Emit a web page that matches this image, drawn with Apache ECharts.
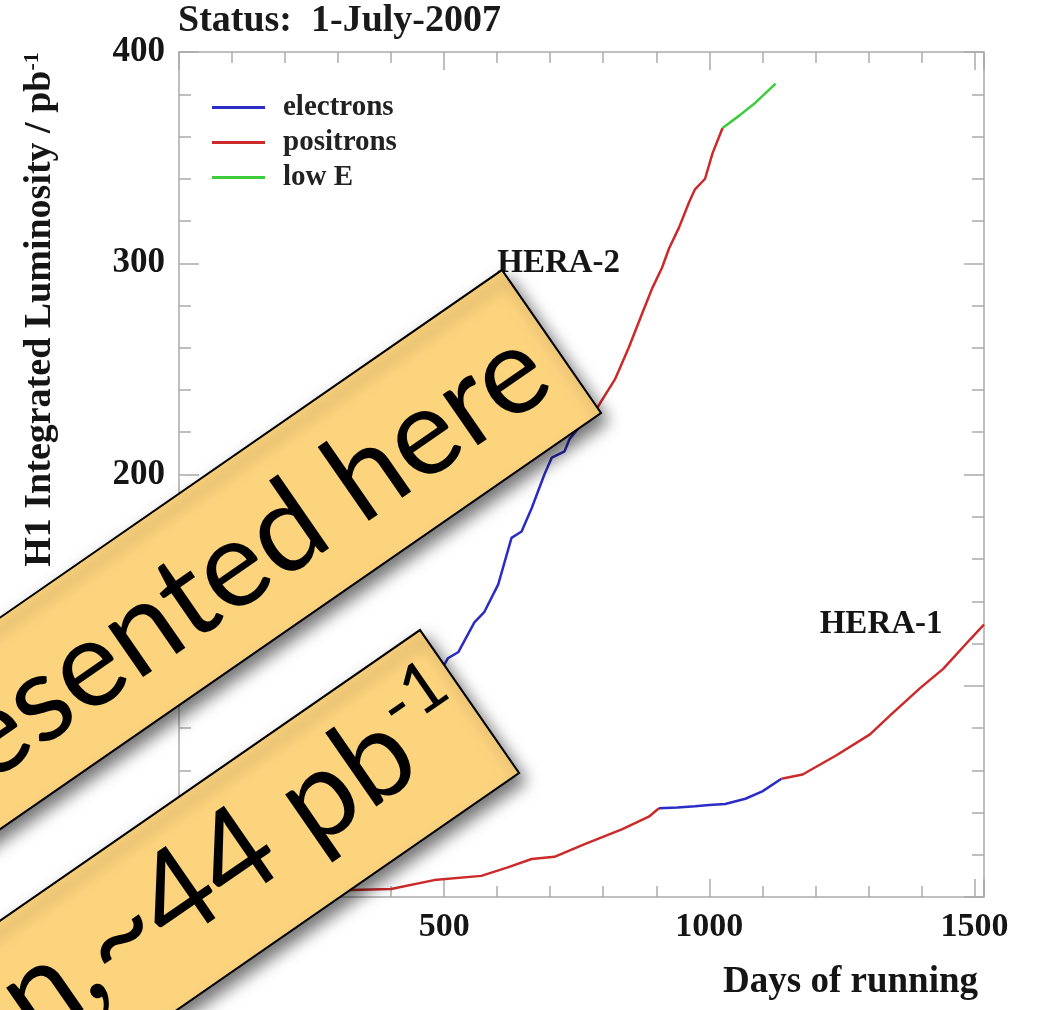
<!DOCTYPE html>
<html><head><meta charset="utf-8">
<script src="https://cdn.jsdelivr.net/npm/echarts@6/dist/echarts.min.js"></script>
<style>html,body{margin:0;padding:0;background:#fff}#c{width:1039px;height:1010px}</style>
</head><body><div id="c"></div>
<script>
// ---------- data (days of running, integrated luminosity pb^-1) ----------
const legendNames = ['electrons', 'positrons', 'low E'];
const xLabelTicks = [0, 500, 1000, 1500];
const yLabelTicks = [0, 100, 200, 300, 400];

// HERA-2
const hera2Positrons1 = [[0,0],[60,3],[120,9],[180,18],[240,30],[290,42]];
const hera2Electrons = [[290,42],[340,55],[390,70],[440,88],[480,101],[507,113],[527,116],[557,130],[576,135],[602,148],[627,170],[646,173],[665,184],[689,200],[703,208],[727,211],[737,217],[760,224],[785,230]];
const hera2Positrons2 = [[785,230],[797,235],[822,245],[848,260],[873,276],[892,288],[911,298],[924,307],[943,317],[962,329],[973,335],[992,340],[1006,352],[1025,364]];
const hera2LowE = [[1025,364],[1057,370],[1087,376],[1125,385]];

// HERA-1
const hera1Positrons1 = [[0,0],[100,0.8],[200,1.8],[280,2.8],[324,3.3],[400,3.8],[481,8],[570,10],[620,14],[665,18],[708,19],[765,25],[835,32],[886,38],[905,42]];
const hera1Electrons = [[905,42],[940,42.4],[973,43],[1000,43.6],[1030,44],[1068,46.5],[1100,50],[1136,56]];
const hera1Positrons2 = [[1136,56],[1176,58],[1239,67],[1303,77],[1341,86],[1398,99],[1441,108],[1492,122],[1518,129]];

const annotations = [
  { name: 'HERA-2', coord: [716, 300] },
  { name: 'HERA-1', coord: [1324, 129] }
];
const bannerTexts = ['esented here', 'n,~44 pb', '-1'];

// ---------- styling ----------
const SERIF = "'Liberation Serif','Times New Roman',serif";
const COLORS = { 'electrons': '#2b2bc6', 'positrons': '#cc2a2a', 'low E': '#3ccc3c' };
const AXIS_GREY = '#aaaaaa';
const X_MAX = 1518;

function seg(name, data, mark) {
  const s = {
    type: 'line', name: name, data: data, xAxisIndex: 0, yAxisIndex: 0,
    symbol: 'none', showSymbol: false, silent: true, z: 3,
    lineStyle: { width: 2.5, color: COLORS[name] },
    itemStyle: { color: COLORS[name] }
  };
  if (mark) {
    s.markPoint = {
      silent: true, symbol: 'rect', symbolSize: 1,
      itemStyle: { color: 'rgba(0,0,0,0)' },
      label: { show: true, position: 'inside', formatter: p => p.name,
               fontSize: 33, fontWeight: 'bold', fontFamily: SERIF, color: '#151515' },
      data: [mark]
    };
  }
  return s;
}

function xAx(grid, pos, interval, len, labels, line) {
  const a = {
    type: 'value', gridIndex: grid, position: pos, min: 0, max: X_MAX, interval: interval,
    axisLine: { show: line, onZero: false, lineStyle: { color: AXIS_GREY, width: 1.5 } },
    axisTick: { show: true, inside: true, length: len, lineStyle: { color: AXIS_GREY, width: 1.5 } },
    splitLine: { show: false },
    axisLabel: { show: labels }
  };
  if (labels) {
    a.axisLabel = { show: true, margin: 13, fontSize: 34, fontWeight: 'bold', fontFamily: SERIF, color: '#151515',
      formatter: v => (xLabelTicks.indexOf(v) >= 0 ? String(v) : '') };
    a.name = 'Days of running';
    a.nameLocation = 'end';
    a.nameGap = -6;
    a.nameTextStyle = { fontSize: 37, fontWeight: 'bold', fontFamily: SERIF, color: '#151515',
      align: 'right', verticalAlign: 'top', padding: [67, 0, 0, 0] };
  }
  return a;
}
function yAx(grid, pos, interval, len, labels, line) {
  const a = {
    type: 'value', gridIndex: grid, position: pos, min: 0, max: 400, interval: interval,
    axisLine: { show: line, onZero: false, lineStyle: { color: AXIS_GREY, width: 1.5 } },
    axisTick: { show: true, inside: true, length: len, lineStyle: { color: AXIS_GREY, width: 1.5 } },
    splitLine: { show: false },
    axisLabel: { show: labels }
  };
  if (labels) {
    a.axisLabel = { show: true, margin: 14, fontSize: 35, fontWeight: 'bold', fontFamily: SERIF, color: '#151515',
      formatter: v => (yLabelTicks.indexOf(v) >= 0 ? String(v) : '') };
    a.name = '{n|H1 Integrated Luminosity / pb}{s|-1}';
    a.nameLocation = 'middle';
    a.nameRotate = 90;
    a.nameGap = 120;
    a.nameTextStyle = { padding: [0, 0, 0, 330],
      rich: { n: { fontSize: 38, fontWeight: 'bold', fontFamily: SERIF, color: '#151515' },
              s: { fontSize: 22, fontWeight: 'bold', fontFamily: SERIF, color: '#151515', verticalAlign: 'top', padding: [0,0,16,0] } } };
  }
  return a;
}

const ANG = 34.7 * Math.PI / 180;
const BAND_W = 174;
function banner(x, y, textObj) {
  return {
    type: 'group', x: x, y: y, rotation: ANG, z: 100,
    children: [
      { type: 'rect', z: 100, shape: { x: -1500, y: 0, width: 1500, height: BAND_W },
        style: { fill: '#fdd47e', stroke: '#000', lineWidth: 2,
                 shadowBlur: 16, shadowOffsetX: 6, shadowOffsetY: 8, shadowColor: 'rgba(0,0,0,0.55)' } },
      Object.assign({ type: 'text', z: 101 }, textObj)
    ]
  };
}

const chart = echarts.init(document.getElementById('c'), null, { renderer: 'canvas' });
chart.setOption({
  animation: false,
  backgroundColor: '#ffffff',
  title: { text: 'Status:  1-July-2007', left: 178, top: 2, padding: 0,
           textStyle: { fontSize: 38, fontWeight: 'bold', fontFamily: SERIF, color: '#1a1a1a' } },
  legend: {
    data: legendNames.map(n => ({ name: n, icon: 'rect' })),
    orient: 'vertical', left: 207, top: 87, itemWidth: 53, itemHeight: 3, itemGap: 4,
    selectedMode: false,
    textStyle: { fontSize: 29, fontWeight: 'bold', fontFamily: SERIF, color: '#222', lineHeight: 31, padding: [0, 0, 0, 13] }
  },
  grid: [
    { left: 179, right: 55, top: 52, bottom: 113 },
    { left: 179, right: 55, top: 52, bottom: 113 }
  ],
  xAxis: [
    xAx(0, 'bottom', 100, 11, true, true),
    xAx(0, 'top', 100, 11, false, true),
    xAx(1, 'bottom', 500, 18, false, false),
    xAx(1, 'top', 500, 18, false, false)
  ],
  yAxis: [
    yAx(0, 'left', 20, 12, true, true),
    yAx(0, 'right', 20, 12, false, true),
    yAx(1, 'left', 100, 20, false, false),
    yAx(1, 'right', 100, 20, false, false)
  ],
  series: [
    seg('positrons', hera1Positrons1),
    seg('electrons', hera1Electrons),
    seg('positrons', hera1Positrons2, annotations[1]),
    seg('positrons', hera2Positrons1),
    seg('electrons', hera2Electrons),
    seg('positrons', hera2Positrons2, annotations[0]),
    seg('low E', hera2LowE)
  ],
  graphic: [
    banner(502, 270, { x: -22, y: BAND_W / 2 + 4,
      style: { text: bannerTexts[0], fontSize: 122, fontFamily: 'Lato', fill: '#000',
               align: 'right', verticalAlign: 'middle' } }),
    banner(420, 630, { x: -10, y: BAND_W / 2 - 6,
      style: { text: '{m|' + bannerTexts[1] + '}{s|' + bannerTexts[2] + '}', fill: '#000',
               align: 'right', verticalAlign: 'middle',
               rich: { m: { fontSize: 122, fontFamily: 'Lato', fill: '#000', lineHeight: 132 },
                       s: { fontSize: 70, fontFamily: 'Lato', fill: '#000', verticalAlign: 'top', lineHeight: 76 } } } })
  ]
});
</script></body></html>
